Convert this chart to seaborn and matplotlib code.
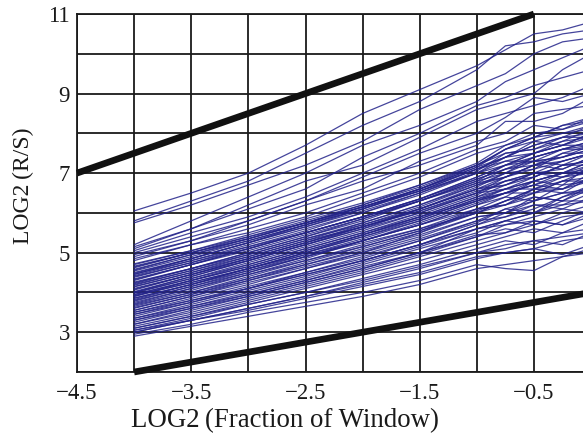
import numpy as np
import pandas as pd
import matplotlib
matplotlib.use("Agg")
import matplotlib.pyplot as plt
import seaborn as sns
from matplotlib.ticker import MultipleLocator, FixedLocator

# ---------------- data ----------------
x_points = [-4.0, -3.5, -3.0, -2.5, -2.0, -1.5, -1.0, -0.75, -0.5, -0.25, 0.0]

upper_lines = [
    [6.05, 6.5, 7.0, 7.7, 8.5, 9.1, 9.7, 10.1, 10.5, 10.6, 10.8],
    [5.8, 6.3, 6.8, 7.5, 8.2, 8.8, 9.6, 10.2, 10.3, 10.5, 10.6],
    [5.75, 6.2, 6.7, 7.2, 7.8, 8.6, 9.2, 9.5, 10.0, 10.3, 10.4],
    [5.2, 5.8, 6.4, 7.0, 7.7, 8.2, 8.8, 9.3, 9.6, 9.9, 10.2],
    [5.15, 5.6, 6.1, 6.6, 7.4, 8.0, 8.7, 8.9, 9.2, 9.4, 9.6],
    [5.1, 5.6, 6.2, 6.8, 7.2, 7.9, 8.6, 8.8, 9.0, 9.6, 10.0],
    [5.05, 5.5, 5.9, 6.4, 7.0, 7.6, 8.3, 8.5, 8.7, 8.9, 9.2],
    [5.0, 5.4, 5.8, 6.3, 6.9, 7.5, 8.0, 8.4, 8.9, 8.8, 9.0],
    [4.95, 5.3, 5.7, 6.2, 6.6, 7.3, 7.8, 8.0, 8.5, 8.6, 8.7],
    [4.9, 5.3, 5.8, 6.3, 6.8, 7.2, 7.7, 8.3, 8.3, 8.5, 8.9],
    [4.85, 5.2, 5.6, 6.0, 6.5, 7.0, 7.6, 7.8, 8.2, 8.1, 8.4],
    [4.8, 5.2, 5.5, 5.9, 6.4, 6.9, 7.5, 7.7, 7.9, 8.2, 8.3],
]

band_lines = [
    [2.9, 3.15, 3.4, 3.65, 3.9, 4.2, 4.6, 4.7, 4.8, 4.9, 5.0],
    [2.95, 3.2, 3.5, 3.75, 4.0, 4.3, 4.7, 4.6, 4.55, 4.9, 5.1],
    [3.0, 3.3, 3.6, 3.9, 4.2, 4.5, 4.9, 5.0, 5.1, 4.95, 5.2],
    [3.05, 3.35, 3.7, 4.0, 4.35, 4.7, 5.1, 5.3, 5.2, 5.5, 5.6],
    [3.1, 3.4, 3.75, 4.1, 4.45, 4.8, 5.2, 5.4, 5.6, 5.5, 5.8],
    [3.15, 3.45, 3.8, 4.15, 4.5, 4.9, 5.3, 5.5, 5.7, 5.9, 6.0],
    [3.2, 3.55, 3.9, 4.25, 4.6, 5.0, 5.4, 5.6, 5.5, 5.8, 6.1],
    [3.25, 3.6, 3.95, 4.3, 4.7, 5.1, 5.5, 5.8, 6.0, 6.2, 6.3],
    [3.3, 3.6, 3.9, 4.25, 4.6, 5.0, 5.6, 5.7, 5.9, 6.1, 6.0],
    [3.35, 3.7, 4.05, 4.4, 4.8, 5.2, 5.7, 6.0, 6.2, 6.1, 6.4],
    [3.4, 3.75, 4.1, 4.5, 4.9, 5.3, 5.8, 5.9, 6.1, 6.4, 6.6],
    [3.45, 3.8, 4.15, 4.5, 4.85, 5.3, 5.75, 6.1, 6.3, 6.5, 6.5],
    [3.5, 3.85, 4.2, 4.6, 5.0, 5.4, 5.9, 6.0, 6.4, 6.3, 6.7],
    [3.55, 3.9, 4.3, 4.7, 5.1, 5.5, 6.0, 6.3, 6.5, 6.8, 6.9],
    [3.6, 3.95, 4.3, 4.65, 5.0, 5.5, 6.1, 6.2, 6.6, 6.6, 7.0],
    [3.65, 4.0, 4.4, 4.8, 5.2, 5.6, 6.1, 6.4, 6.3, 6.7, 6.8],
    [3.7, 4.05, 4.45, 4.85, 5.3, 5.7, 6.2, 6.5, 6.8, 7.0, 7.1],
    [3.72, 4.1, 4.5, 4.9, 5.25, 5.6, 6.0, 6.3, 6.6, 6.5, 6.9],
    [3.78, 4.15, 4.55, 4.95, 5.35, 5.8, 6.3, 6.6, 6.9, 7.2, 7.3],
    [3.82, 4.2, 4.6, 5.0, 5.4, 5.85, 6.35, 6.5, 6.7, 7.0, 7.0],
    [3.86, 4.2, 4.55, 4.9, 5.3, 5.7, 6.2, 6.4, 6.8, 6.7, 7.2],
    [3.9, 4.3, 4.7, 5.1, 5.5, 5.95, 6.45, 6.8, 7.0, 7.3, 7.5],
    [3.94, 4.3, 4.65, 5.05, 5.45, 5.9, 6.4, 6.6, 6.6, 6.9, 7.1],
    [3.98, 4.35, 4.75, 5.15, 5.55, 6.0, 6.5, 6.9, 7.2, 7.4, 7.6],
    [4.02, 4.4, 4.8, 5.2, 5.6, 6.1, 6.6, 6.7, 7.0, 7.1, 7.4],
    [4.06, 4.45, 4.85, 5.25, 5.7, 6.15, 6.7, 7.0, 7.3, 7.2, 7.5],
    [4.1, 4.45, 4.8, 5.2, 5.6, 6.0, 6.5, 6.8, 6.9, 7.2, 7.3],
    [4.14, 4.5, 4.9, 5.3, 5.75, 6.2, 6.75, 7.1, 7.4, 7.6, 7.8],
    [4.18, 4.55, 4.95, 5.35, 5.75, 6.2, 6.7, 6.9, 7.1, 7.5, 7.5],
    [4.22, 4.6, 5.0, 5.4, 5.8, 6.3, 6.8, 7.2, 7.3, 7.4, 7.7],
    [4.26, 4.6, 4.95, 5.35, 5.7, 6.1, 6.6, 6.8, 7.0, 6.9, 7.2],
    [4.3, 4.7, 5.1, 5.5, 5.9, 6.35, 6.9, 7.2, 7.5, 7.7, 7.9],
    [4.34, 4.7, 5.05, 5.45, 5.85, 6.3, 6.8, 7.0, 7.4, 7.6, 7.6],
    [4.38, 4.75, 5.15, 5.55, 6.0, 6.45, 7.0, 7.3, 7.3, 7.6, 7.8],
    [4.42, 4.8, 5.2, 5.6, 6.0, 6.5, 7.0, 7.4, 7.7, 7.9, 8.0],
    [4.46, 4.8, 5.15, 5.5, 5.9, 6.3, 6.75, 6.9, 7.2, 7.3, 7.5],
    [4.5, 4.85, 5.25, 5.65, 6.05, 6.5, 7.05, 7.5, 7.6, 7.8, 8.1],
    [4.54, 4.9, 5.3, 5.7, 6.1, 6.55, 7.1, 7.3, 7.5, 7.8, 7.9],
    [4.58, 4.95, 5.3, 5.7, 6.1, 6.6, 7.15, 7.6, 7.9, 8.0, 8.2],
    [4.62, 5.0, 5.35, 5.75, 6.15, 6.6, 7.1, 7.4, 7.8, 7.7, 8.0],
    [4.66, 5.0, 5.4, 5.8, 6.2, 6.7, 7.2, 7.5, 7.6, 7.9, 8.2],
    [4.7, 5.05, 5.45, 5.85, 6.25, 6.7, 7.25, 7.7, 8.0, 8.1, 8.3],
    [4.72, 5.05, 5.4, 5.75, 6.15, 6.55, 7.0, 7.2, 7.4, 7.6, 7.7],
    [3.35, 3.65, 3.95, 4.3, 4.65, 5.0, 5.45, 5.5, 5.8, 5.7, 5.9],
    [3.0, 3.3, 3.55, 3.85, 4.15, 4.45, 4.85, 5.0, 5.1, 5.3, 5.4],
    [3.5, 3.8, 4.1, 4.45, 4.8, 5.2, 5.6, 5.8, 5.7, 6.0, 6.2],
    [3.75, 4.1, 4.45, 4.8, 5.15, 5.55, 6.0, 6.2, 6.4, 6.3, 6.6],
    [4.0, 4.35, 4.7, 5.1, 5.5, 5.9, 6.3, 6.5, 6.7, 6.9, 7.0],
    [4.2, 4.55, 4.9, 5.3, 5.65, 6.05, 6.5, 6.6, 6.8, 7.0, 7.3],
    [4.45, 4.85, 5.25, 5.7, 6.15, 6.6, 7.2, 7.6, 7.9, 8.2, 8.4],
    [3.1, 3.4, 3.7, 4.0, 4.3, 4.65, 5.0, 5.2, 5.3, 5.2, 5.5],
    [3.9, 4.25, 4.6, 4.95, 5.3, 5.7, 6.1, 6.2, 6.5, 6.6, 6.8],
    [3.05, 3.3, 3.6, 3.9, 4.25, 4.6, 5.0, 5.1, 5.3, 5.4, 5.5],
    [3.2, 3.5, 3.85, 4.2, 4.55, 4.95, 5.4, 5.7, 5.8, 5.7, 6.0],
    [3.3, 3.65, 4.0, 4.35, 4.75, 5.15, 5.6, 5.8, 6.0, 6.3, 6.3],
    [3.45, 3.75, 4.1, 4.45, 4.8, 5.2, 5.7, 5.9, 6.2, 6.2, 6.5],
    [3.55, 3.9, 4.25, 4.6, 4.95, 5.35, 5.8, 6.1, 6.0, 6.4, 6.7],
    [3.62, 3.95, 4.35, 4.75, 5.15, 5.55, 6.05, 6.3, 6.6, 6.8, 6.8],
    [3.68, 4.0, 4.35, 4.7, 5.05, 5.45, 5.9, 6.0, 6.3, 6.5, 6.6],
    [3.8, 4.15, 4.5, 4.9, 5.3, 5.75, 6.25, 6.5, 6.5, 6.8, 7.1],
    [3.85, 4.2, 4.6, 5.0, 5.45, 5.9, 6.4, 6.7, 7.0, 7.0, 7.3],
    [3.92, 4.25, 4.6, 5.0, 5.4, 5.8, 6.3, 6.5, 6.7, 6.6, 6.9],
    [4.0, 4.4, 4.8, 5.2, 5.65, 6.1, 6.65, 7.0, 7.1, 7.3, 7.5],
    [4.08, 4.45, 4.85, 5.25, 5.65, 6.05, 6.55, 6.7, 6.9, 7.2, 7.2],
    [4.15, 4.5, 4.85, 5.25, 5.65, 6.1, 6.6, 6.9, 7.2, 7.1, 7.4],
    [4.24, 4.6, 5.0, 5.4, 5.85, 6.3, 6.85, 7.1, 7.2, 7.5, 7.7],
    [4.32, 4.7, 5.1, 5.5, 5.9, 6.35, 6.85, 7.1, 7.3, 7.4, 7.6],
    [4.4, 4.75, 5.1, 5.5, 5.9, 6.35, 6.9, 7.2, 7.5, 7.7, 7.7],
    [4.48, 4.85, 5.25, 5.65, 6.1, 6.55, 7.1, 7.4, 7.5, 7.7, 8.0],
    [4.56, 4.95, 5.35, 5.75, 6.15, 6.6, 7.15, 7.4, 7.7, 7.9, 7.9],
    [4.64, 5.0, 5.35, 5.75, 6.2, 6.65, 7.2, 7.6, 7.8, 8.0, 8.1],
    [3.95, 4.3, 4.65, 5.05, 5.45, 5.85, 6.35, 6.6, 6.8, 7.0, 7.2],
]

upper_bound_x = [-4.5, -0.5]
upper_bound_y = [7.0, 11.0]
lower_bound_x = [-4.0, 0.0]
lower_bound_y = [2.0, 4.0]

x_ticks = [-4.5, -3.5, -2.5, -1.5, -0.5]
y_ticks = [3, 5, 7, 9, 11]

x_label = "LOG2\u2009(Fraction of Window)"
y_label = "LOG2\u2009(R/S)"

# ---------------- build long table ----------------
rows = []
for i, ys in enumerate(upper_lines + band_lines):
    for xv, yv in zip(x_points, ys):
        rows.append({"line": i, "x": xv, "y": yv})
df = pd.DataFrame(rows)

# ---------------- plot ----------------
sns.set_style("white")
serif = ["Liberation Serif", "DejaVu Serif"]
plt.rcParams["font.family"] = serif
plt.rcParams["axes.unicode_minus"] = True

fig = plt.figure(figsize=(5.83, 4.34), dpi=100)
ax = fig.add_axes([77 / 583, 62 / 434, 506 / 583, 358 / 434])

sns.lineplot(data=df, x="x", y="y", units="line", estimator=None,
             color="#24248a", linewidth=0.9, alpha=0.85, ax=ax,
             legend=False, zorder=3)

ax.plot(upper_bound_x, upper_bound_y, color="#111111", linewidth=4.8,
        solid_capstyle="butt", clip_on=False, zorder=5)
ax.plot(lower_bound_x, lower_bound_y, color="#111111", linewidth=4.8,
        solid_capstyle="butt", clip_on=False, zorder=5)

ax.set_xlim(-4.5, -4.5 + 506 / 114.25)
ax.set_ylim(2, 11)

ax.xaxis.set_major_locator(FixedLocator(x_ticks))
ax.xaxis.set_minor_locator(MultipleLocator(0.5))
ax.yaxis.set_major_locator(FixedLocator(y_ticks))
ax.yaxis.set_minor_locator(MultipleLocator(1))
ax.grid(True, which="both", color="#1a1a1a", linewidth=1.3, zorder=1)
ax.set_axisbelow(True)

for s in ["left", "bottom", "top"]:
    ax.spines[s].set_visible(True)
    ax.spines[s].set_color("#1a1a1a")
    ax.spines[s].set_linewidth(1.3)
ax.spines["right"].set_visible(False)

ax.tick_params(axis="both", which="both", length=0, labelsize=16.5,
               colors="#1a1a1a")
ax.tick_params(axis="x", pad=8)
ax.tick_params(axis="y", pad=5)

ax.set_xlabel(x_label, fontsize=19.4, color="#1a1a1a", va="center")
ax.set_ylabel(y_label, fontsize=17, color="#1a1a1a", va="center")
ax.xaxis.set_label_coords((285 - 77) / 506, -(421 - 372) / 358)
ax.yaxis.set_label_coords(-(77 - 23) / 506, (372 - 186) / 358)

fig.savefig("out.png", dpi=100)
